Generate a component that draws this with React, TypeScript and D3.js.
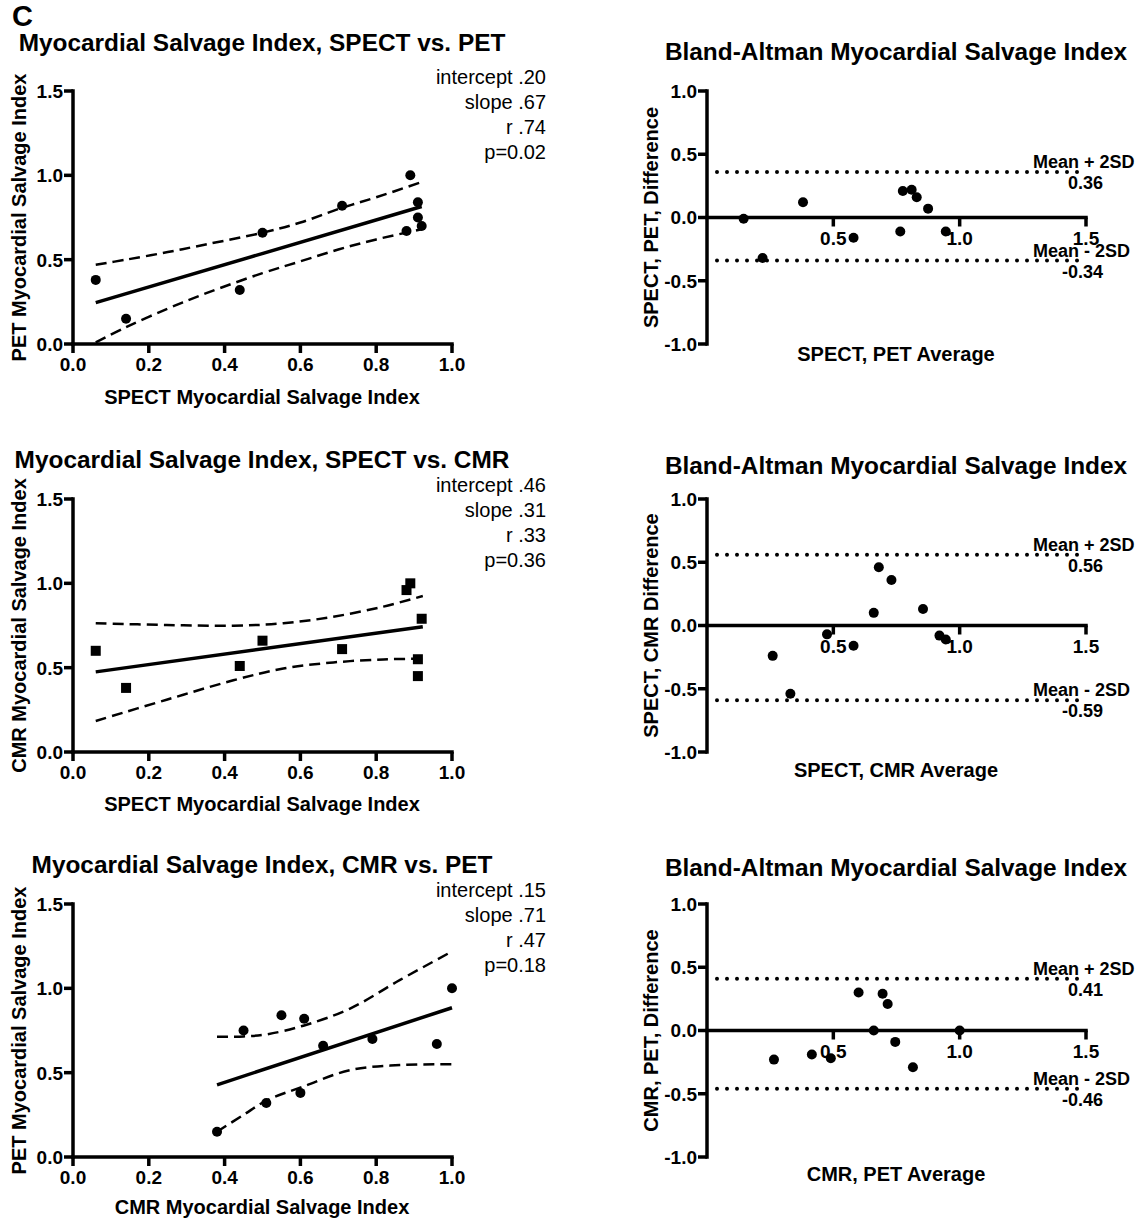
import React from 'react';
import * as d3 from 'd3';

const FONT = '"Liberation Sans", Arial, Helvetica, sans-serif';

// per-row layout
const rowTops = [91, 499, 904];
const plotH = 253;

// --- row 1: SPECT vs PET ---
const spectPetX = [0.06, 0.14, 0.44, 0.50, 0.71, 0.89, 0.91, 0.91, 0.88, 0.92];
const spectPetY = [0.38, 0.15, 0.32, 0.66, 0.82, 1.00, 0.84, 0.75, 0.67, 0.70];
const fit1X = [0.06, 0.92];
const fit1Y = [0.245, 0.815];
const band1X = [0.06, 0.14, 0.25, 0.35, 0.5, 0.6, 0.7, 0.8, 0.92];
const band1Upper = [0.47, 0.50, 0.545, 0.59, 0.66, 0.72, 0.80, 0.87, 0.96];
const band1Lower = [0.01, 0.10, 0.21, 0.30, 0.42, 0.49, 0.56, 0.62, 0.68];
const stats1 = ['intercept .20', 'slope .67', 'r .74', 'p=0.02'];

// --- row 2: SPECT vs CMR ---
const spectCmrX = [0.06, 0.14, 0.44, 0.50, 0.71, 0.89, 0.91, 0.91, 0.88, 0.92];
const spectCmrY = [0.60, 0.38, 0.51, 0.66, 0.61, 1.00, 0.55, 0.45, 0.96, 0.79];
const fit2X = [0.06, 0.923];
const fit2Y = [0.475, 0.743];
const band2X = [0.06, 0.247, 0.423, 0.555, 0.687, 0.819, 0.923];
const band2Upper = [0.763, 0.753, 0.749, 0.763, 0.802, 0.862, 0.925];
const band2Lower = [0.184, 0.31, 0.425, 0.495, 0.531, 0.549, 0.553];
const stats2 = ['intercept .46', 'slope .31', 'r .33', 'p=0.36'];

// --- row 3: CMR vs PET ---
const cmrPetX = [0.60, 0.38, 0.51, 0.66, 0.61, 1.00, 0.55, 0.45, 0.96, 0.79];
const cmrPetY = [0.38, 0.15, 0.32, 0.66, 0.82, 1.00, 0.84, 0.75, 0.67, 0.70];
const fit3X = [0.38, 1.0];
const fit3Y = [0.428, 0.885];
const band3X = [0.38, 0.45, 0.511, 0.61, 0.731, 0.863, 1.0];
const band3Upper = [0.713, 0.715, 0.727, 0.78, 0.88, 1.05, 1.219];
const band3Lower = [0.15, 0.25, 0.335, 0.42, 0.515, 0.545, 0.55];
const stats3 = ['intercept .15', 'slope .71', 'r .47', 'p=0.18'];

// --- Bland-Altman ---
const ba1Avg = [0.22, 0.145, 0.38, 0.58, 0.765, 0.945, 0.875, 0.83, 0.775, 0.81];
const ba1Diff = [-0.32, -0.01, 0.12, -0.16, -0.11, -0.11, 0.07, 0.16, 0.21, 0.22];
const ba1Limits = [0.36, -0.34];

const ba2Avg = [0.33, 0.26, 0.475, 0.58, 0.66, 0.945, 0.73, 0.68, 0.92, 0.855];
const ba2Diff = [-0.54, -0.24, -0.07, -0.16, 0.10, -0.11, 0.36, 0.46, -0.08, 0.13];
const ba2Limits = [0.56, -0.59];

const ba3Avg = [0.49, 0.265, 0.415, 0.66, 0.715, 1.0, 0.695, 0.60, 0.815, 0.745];
const ba3Diff = [-0.22, -0.23, -0.19, 0.0, 0.21, 0.0, 0.29, 0.30, -0.29, -0.09];
const ba3Limits = [0.41, -0.46];

const fmt = (v) => v.toFixed(1);
const fmt2 = (v) => v.toFixed(2);
const AXW = 3.5;
const TICKFS = 19;

function Scatter(props) {
  const { top, xs, ys, marker, fitX, fitY, bandX, bandUpper, bandLower, title, titleY, xLabel, yLabel, stats, xLabelOff } = props;
  const x = d3.scaleLinear().domain([0, 1]).range([73, 452]);
  const y = d3.scaleLinear().domain([0, 1.5]).range([top + plotH, top]);
  const line = d3.line().x((d) => x(d[0])).y((d) => y(d[1]));
  const curve = d3.line().x((d) => x(d[0])).y((d) => y(d[1])).curve(d3.curveCatmullRom.alpha(0.5));
  const bottom = y(0);
  const left = x(0);

  return (
    <g>
      <text x={262} y={titleY} textAnchor="middle" fontSize={24.4} fontWeight="bold">{title}</text>
      {stats.map((s, i) => (
        <text key={i} x={546} y={top - 7 + i * 25} textAnchor="end" fontSize={20}>{s}</text>
      ))}
      <path d={curve(bandX.map((v, i) => [v, bandUpper[i]]))} fill="none" stroke="#000" strokeWidth={2.5} strokeDasharray="11,6" />
      <path d={curve(bandX.map((v, i) => [v, bandLower[i]]))} fill="none" stroke="#000" strokeWidth={2.5} strokeDasharray="11,6" />
      <path d={line(fitX.map((v, i) => [v, fitY[i]]))} fill="none" stroke="#000" strokeWidth={3.5} />
      {xs.map((v, i) =>
        marker === 'square' ? (
          <rect key={i} x={x(v) - 5} y={y(ys[i]) - 5} width={10} height={10} fill="#000" />
        ) : (
          <circle key={i} cx={x(v)} cy={y(ys[i])} r={5} fill="#000" />
        )
      )}
      {/* axes */}
      <line x1={left} x2={left} y1={y(1.5)} y2={bottom} stroke="#000" strokeWidth={AXW} strokeLinecap="square" />
      <line x1={left} x2={x(1)} y1={bottom} y2={bottom} stroke="#000" strokeWidth={AXW} strokeLinecap="square" />
      {y.ticks(3).map((t) => (
        <g key={t}>
          <line x1={left - 9} x2={left} y1={y(t)} y2={y(t)} stroke="#000" strokeWidth={AXW} />
          <text x={left - 10} y={y(t)} dy="0.36em" textAnchor="end" fontSize={TICKFS} fontWeight="bold">{fmt(t)}</text>
        </g>
      ))}
      {x.ticks(5).map((t) => (
        <g key={t}>
          <line x1={x(t)} x2={x(t)} y1={bottom} y2={bottom + 9} stroke="#000" strokeWidth={AXW} />
          <text x={x(t)} y={bottom + 27} textAnchor="middle" fontSize={TICKFS} fontWeight="bold">{fmt(t)}</text>
        </g>
      ))}
      <text x={262} y={bottom + xLabelOff} textAnchor="middle" fontSize={20} fontWeight="bold">{xLabel}</text>
      <text transform={`translate(26,${(y(1.5) + bottom) / 2}) rotate(-90)`} textAnchor="middle" fontSize={20} fontWeight="bold">{yLabel}</text>
    </g>
  );
}

function BlandAltman(props) {
  const { top, avg, diff, limits, title, titleY, xLabel, yLabel, xLabelOff } = props;
  const x = d3.scaleLinear().domain([0, 1.5]).range([707, 1086]);
  const y = d3.scaleLinear().domain([-1, 1]).range([top + plotH, top]);
  const left = x(0);
  const zero = y(0);

  return (
    <g>
      <text x={896} y={titleY} textAnchor="middle" fontSize={24.4} fontWeight="bold">{title}</text>
      {limits.map((l, i) => (
        <g key={i}>
          <line x1={left + 10} x2={x(1.5)} y1={y(l)} y2={y(l)} stroke="#000" strokeWidth={4} strokeDasharray="0,10" strokeLinecap="round" />
          <text x={1033} y={y(l) - 4} fontSize={18} fontWeight="bold">{i === 0 ? 'Mean + 2SD' : 'Mean - 2SD'}</text>
          <text x={1103} y={y(l) + 17} textAnchor="end" fontSize={18} fontWeight="bold">{fmt2(l)}</text>
        </g>
      ))}
      {avg.map((v, i) => (
        <circle key={i} cx={x(v)} cy={y(diff[i])} r={5} fill="#000" />
      ))}
      <line x1={left} x2={left} y1={y(1)} y2={y(-1)} stroke="#000" strokeWidth={AXW} strokeLinecap="square" />
      <line x1={left} x2={x(1.5)} y1={zero} y2={zero} stroke="#000" strokeWidth={AXW} strokeLinecap="square" />
      {y.ticks(4).map((t) => (
        <g key={t}>
          <line x1={left - 9} x2={left} y1={y(t)} y2={y(t)} stroke="#000" strokeWidth={AXW} />
          <text x={left - 10} y={y(t)} dy="0.36em" textAnchor="end" fontSize={TICKFS} fontWeight="bold">{fmt(t)}</text>
        </g>
      ))}
      {x.ticks(3).filter((t) => t > 0).map((t) => (
        <g key={t}>
          <line x1={x(t)} x2={x(t)} y1={zero} y2={zero + 9} stroke="#000" strokeWidth={AXW} />
          <text x={x(t)} y={zero + 27} textAnchor="middle" fontSize={TICKFS} fontWeight="bold">{fmt(t)}</text>
        </g>
      ))}
      <text x={896} y={y(-1) + xLabelOff} textAnchor="middle" fontSize={20} fontWeight="bold">{xLabel}</text>
      <text transform={`translate(658,${(y(1) + y(-1)) / 2}) rotate(-90)`} textAnchor="middle" fontSize={20} fontWeight="bold">{yLabel}</text>
    </g>
  );
}

export default function App() {
  return (
    <svg width={1143} height={1219} style={{ position: 'absolute', left: 0, top: 0, background: '#fff' }} fontFamily={FONT}>
      <rect width={1143} height={1219} fill="#fff" />
      <text x={12} y={26} fontSize={29} fontWeight="bold">C</text>

      <Scatter top={rowTops[0]} xs={spectPetX} ys={spectPetY} marker="circle"
        fitX={fit1X} fitY={fit1Y} bandX={band1X} bandUpper={band1Upper} bandLower={band1Lower}
        title="Myocardial Salvage Index, SPECT vs. PET" titleY={51}
        xLabel="SPECT Myocardial Salvage Index" yLabel="PET Myocardial Salvage Index" stats={stats1} xLabelOff={60} />
      <Scatter top={rowTops[1]} xs={spectCmrX} ys={spectCmrY} marker="square"
        fitX={fit2X} fitY={fit2Y} bandX={band2X} bandUpper={band2Upper} bandLower={band2Lower}
        title="Myocardial Salvage Index, SPECT vs. CMR" titleY={468}
        xLabel="SPECT Myocardial Salvage Index" yLabel="CMR Myocardial Salvage Index" stats={stats2} xLabelOff={59} />
      <Scatter top={rowTops[2]} xs={cmrPetX} ys={cmrPetY} marker="circle"
        fitX={fit3X} fitY={fit3Y} bandX={band3X} bandUpper={band3Upper} bandLower={band3Lower}
        title="Myocardial Salvage Index, CMR vs. PET" titleY={873}
        xLabel="CMR Myocardial Salvage Index" yLabel="PET Myocardial Salvage Index" stats={stats3} xLabelOff={57} />

      <BlandAltman top={rowTops[0]} avg={ba1Avg} diff={ba1Diff} limits={ba1Limits}
        title="Bland-Altman Myocardial Salvage Index" titleY={60}
        xLabel="SPECT, PET Average" yLabel="SPECT, PET, Difference" xLabelOff={17} />
      <BlandAltman top={rowTops[1]} avg={ba2Avg} diff={ba2Diff} limits={ba2Limits}
        title="Bland-Altman Myocardial Salvage Index" titleY={474}
        xLabel="SPECT, CMR Average" yLabel="SPECT, CMR Difference" xLabelOff={25} />
      <BlandAltman top={rowTops[2]} avg={ba3Avg} diff={ba3Diff} limits={ba3Limits}
        title="Bland-Altman Myocardial Salvage Index" titleY={876}
        xLabel="CMR, PET Average" yLabel="CMR, PET, Difference" xLabelOff={24} />
    </svg>
  );
}
